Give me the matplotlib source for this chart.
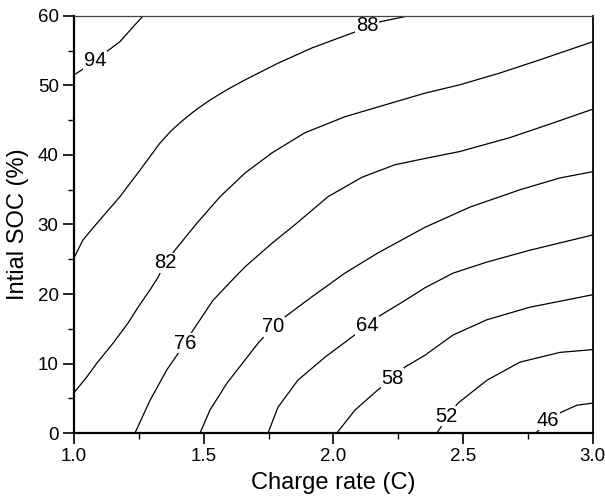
import matplotlib
matplotlib.use('Agg')
import matplotlib.pyplot as plt
from matplotlib.ticker import MultipleLocator, FormatStrFormatter

plt.rcParams['font.family'] = ['Liberation Sans', 'DejaVu Sans']

# Konturlinien (x = Laderate in C, y = Anfangs-SOC in %)
x_94 = [1.0, 1.04, 1.081, 1.123, 1.177, 1.227, 1.266]
y_94 = [51.5, 52.5, 53.6, 54.8, 56.3, 58.4, 60.0]

x_88 = [1.0, 1.035, 1.089, 1.177, 1.254, 1.331, 1.375, 1.42, 1.47, 1.524, 1.59, 1.659, 1.786, 1.917,
        2.083, 2.129, 2.171, 2.287]
y_88 = [25.2, 27.8, 30.2, 34.0, 37.8, 41.7, 43.5, 45.0, 46.5, 47.9, 49.4, 50.8, 53.2, 55.4,
        57.7, 58.4, 59.1, 60.0]

x_82 = [1.0, 1.05, 1.089, 1.15, 1.208, 1.247, 1.293, 1.324, 1.351, 1.389, 1.474, 1.563, 1.659, 1.763,
        1.89, 2.044, 2.198, 2.353, 2.487, 2.642, 2.796, 3.0]
y_82 = [5.8, 8.1, 10.1, 12.9, 15.8, 18.1, 20.6, 22.4, 24.5, 26.3, 30.2, 34.0, 37.4, 40.3,
        43.2, 45.5, 47.2, 48.9, 50.1, 51.8, 53.7, 56.3]

x_76 = [1.235, 1.293, 1.358, 1.428, 1.459, 1.536, 1.574, 1.62, 1.659, 1.76, 1.859, 1.979, 2.11,
        2.237, 2.353, 2.487, 2.68, 2.846, 3.0]
y_76 = [0.0, 4.7, 9.1, 12.9, 14.8, 19.1, 20.6, 22.4, 23.9, 27.2, 30.2, 34.0, 36.8,
        38.6, 39.5, 40.5, 42.5, 44.6, 46.6]

x_70 = [1.486, 1.524, 1.59, 1.659, 1.709, 1.767, 1.813, 1.917, 2.044, 2.171, 2.353, 2.526, 2.719, 2.873, 3.0]
y_70 = [0.0, 3.3, 7.2, 10.5, 12.9, 15.3, 16.7, 19.6, 23.0, 25.9, 29.6, 32.5, 35.0, 36.7, 37.6]

x_64 = [1.748, 1.786, 1.863, 1.967, 2.071, 2.129, 2.171, 2.264, 2.353, 2.461, 2.592, 2.757, 3.0]
y_64 = [0.0, 3.7, 7.6, 10.9, 13.8, 15.4, 16.7, 18.8, 20.9, 23.0, 24.6, 26.3, 28.5]

x_58 = [2.013, 2.083, 2.171, 2.229, 2.276, 2.353, 2.461, 2.592, 2.757, 3.0]
y_58 = [0.0, 3.3, 6.2, 7.9, 9.5, 11.2, 14.1, 16.3, 18.1, 19.9]

x_52 = [2.399, 2.437, 2.48, 2.592, 2.719, 2.873, 3.0]
y_52 = [0.0, 2.2, 4.3, 7.6, 10.2, 11.6, 12.0]

x_46 = [2.78, 2.827, 2.873, 2.938, 3.0]
y_46 = [0.0, 1.7, 2.9, 4.0, 4.3]

# Beschriftungen der Linien: Wert, x, y
label_werte = ['94', '88', '82', '76', '70', '64', '58', '52', '46']
label_x = [1.081, 2.129, 1.351, 1.428, 1.767, 2.129, 2.229, 2.437, 2.827]
label_y = [53.6, 58.6, 24.5, 12.9, 15.3, 15.4, 7.9, 2.4, 1.8]

linien = [(x_94, y_94), (x_88, y_88), (x_82, y_82), (x_76, y_76), (x_70, y_70),
          (x_64, y_64), (x_58, y_58), (x_52, y_52), (x_46, y_46)]

fig = plt.figure(figsize=(6.05, 4.98), dpi=100)
ax = fig.add_axes([0.1223, 0.1305, 0.8577, 0.8374])

for xs, ys in linien:
    ax.plot(xs, ys, color='black', linewidth=0.9, zorder=2)

for txt, lx, ly in zip(label_werte, label_x, label_y):
    ax.text(lx, ly, txt, fontsize=14.5, ha='center', va='center', zorder=2.2,
            bbox=dict(facecolor='white', edgecolor='none', pad=0.3))

ax.set_xlim(1.0, 3.0)
ax.set_ylim(0, 60)
ax.xaxis.set_major_locator(MultipleLocator(0.5))
ax.xaxis.set_minor_locator(MultipleLocator(0.25))
ax.yaxis.set_major_locator(MultipleLocator(10))
ax.yaxis.set_minor_locator(MultipleLocator(5))
ax.xaxis.set_major_formatter(FormatStrFormatter('%.1f'))

ax.tick_params(which='major', direction='out', length=8, width=1.2, labelsize=13.5, pad=3)
ax.tick_params(which='minor', direction='out', length=4, width=1.0)
ax.tick_params(top=False, right=False, which='both')

ax.spines['left'].set_linewidth(1.6)
ax.spines['bottom'].set_linewidth(1.6)
ax.spines['right'].set_linewidth(1.3)
ax.spines['top'].set_linewidth(0.9)
ax.spines['top'].set_color('#444444')

ax.set_xlabel('Charge rate (C)', fontsize=17, labelpad=5)
ax.set_ylabel('Intial SOC (%)', fontsize=17, labelpad=6)

fig.savefig('out.png', dpi=100)
